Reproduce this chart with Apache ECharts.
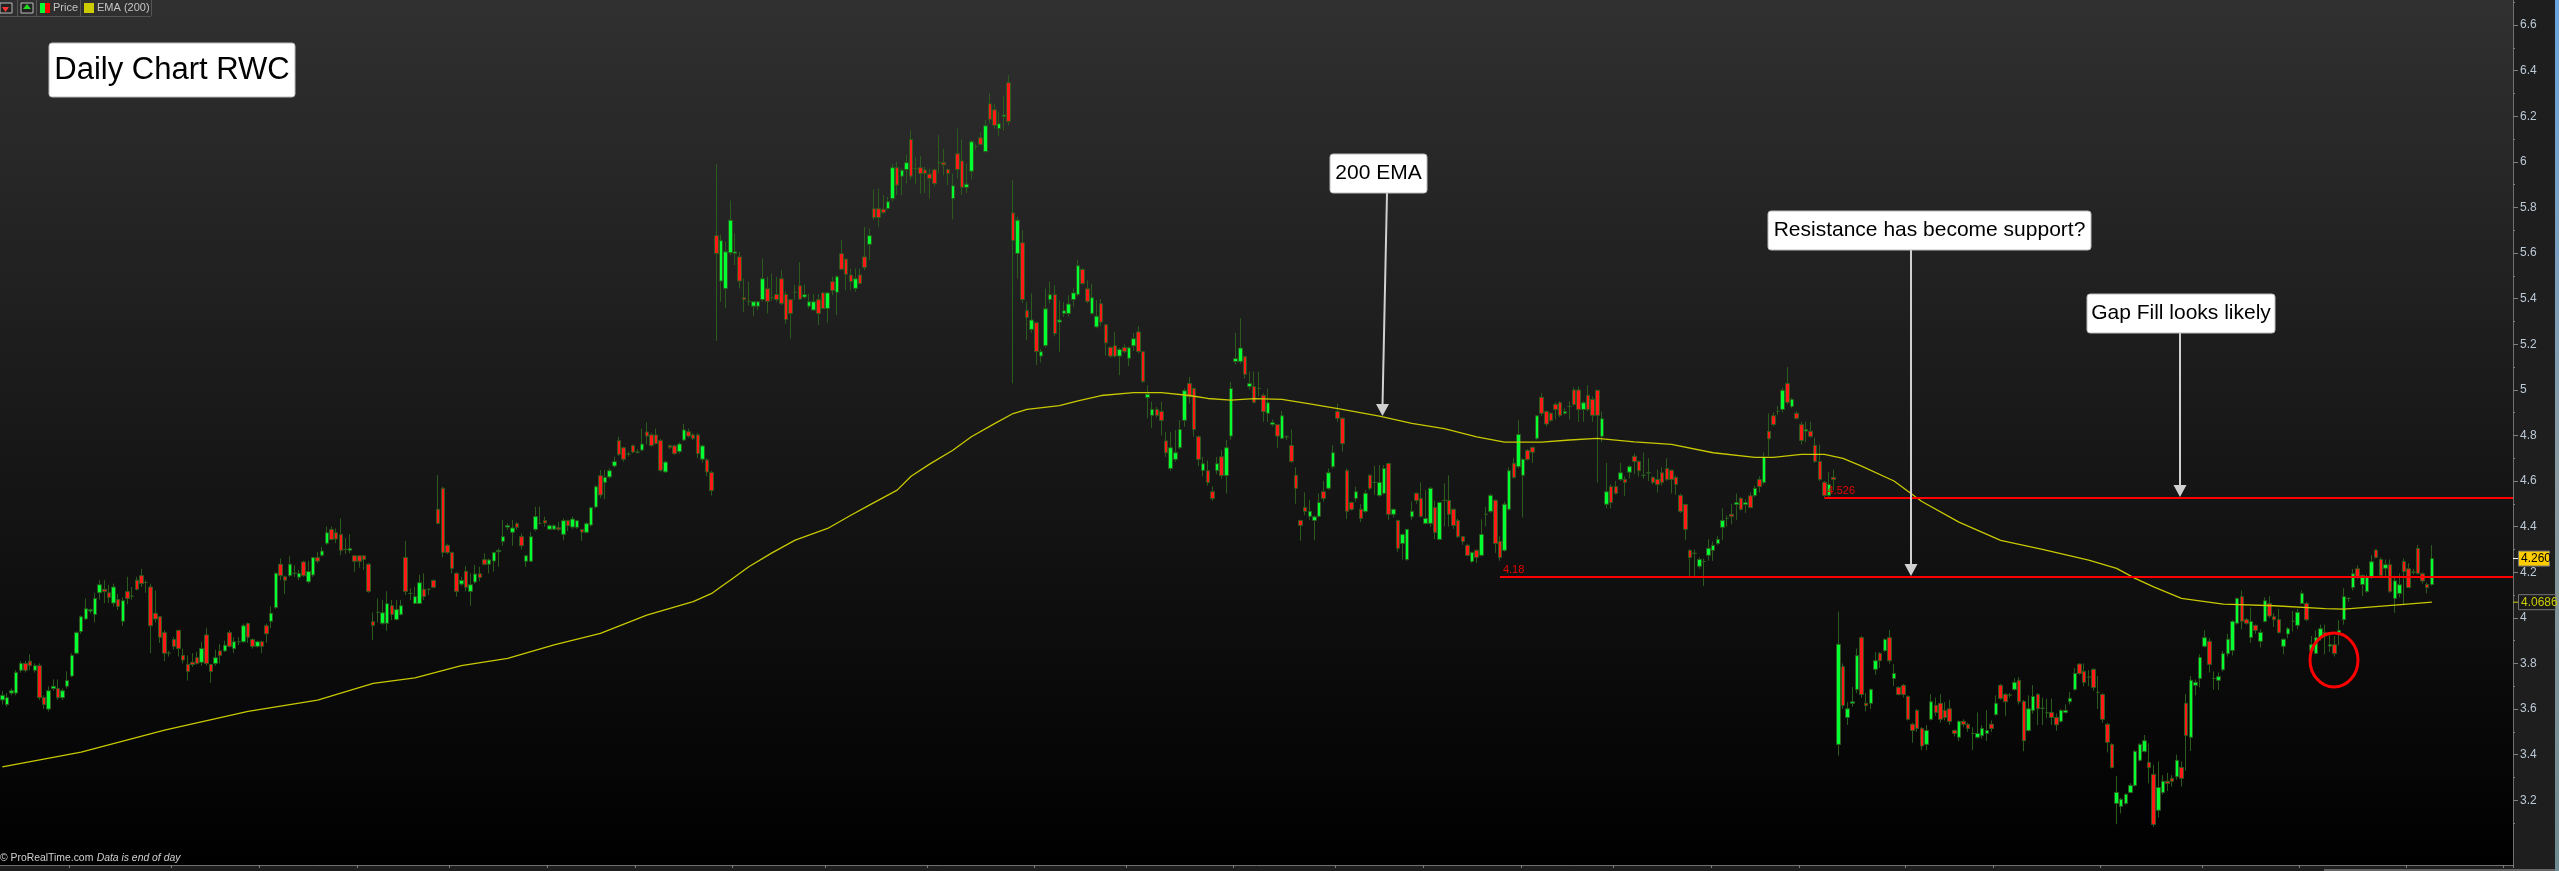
<!DOCTYPE html>
<html>
<head>
<meta charset="utf-8">
<title>Daily Chart RWC</title>
<script src="https://cdn.jsdelivr.net/npm/echarts@6/dist/echarts.min.js"></script>
<style>
html, body { margin: 0; padding: 0; background: #1e1e1e; overflow: hidden; }
#main { width: 2559px; height: 871px; }
</style>
</head>
<body>
<div id="main"></div>
<script>
// open, close, low, high
const legOne = [
[3.64,3.66,3.62,3.68],[3.62,3.65,3.61,3.67],[3.67,3.68,3.66,3.69],[3.67,3.76,3.66,3.77],[3.77,3.80,3.76,3.81],
[3.80,3.77,3.76,3.81],[3.81,3.79,3.77,3.84],[3.77,3.79,3.76,3.80],[3.79,3.65,3.64,3.80],[3.65,3.62,3.60,3.66],
[3.60,3.68,3.59,3.70],[3.69,3.70,3.68,3.73],[3.69,3.65,3.64,3.73],[3.65,3.68,3.64,3.69],[3.70,3.725,3.69,3.765],
[3.745,3.835,3.74,3.845],[3.845,3.935,3.84,3.94],[3.94,4.005,3.93,4.01],[3.995,4.04,3.99,4.085],[4.03,4.035,4.02,4.04],
[4.015,4.085,3.98,4.11],[4.11,4.145,4.08,4.165],[4.125,4.115,4.065,4.165],[4.11,4.09,4.065,4.145],[4.065,4.135,4.05,4.15],
[4.08,4.05,4.035,4.105],[3.985,4.075,3.965,4.09],[4.115,4.085,4.06,4.18],[4.095,4.095,4.08,4.135],[4.165,4.125,4.12,4.18],
[4.185,4.15,4.135,4.215],[4.155,4.155,4.11,4.165],[4.135,3.965,3.845,4.15],[4.02,3.995,3.98,4.12],[4.005,3.915,3.89,4.005],
[3.935,3.845,3.81,3.945],[3.845,3.845,3.83,3.855],[3.905,3.875,3.86,3.915],[3.945,3.865,3.83,3.945],[3.835,3.815,3.80,3.865],
[3.795,3.765,3.725,3.835],[3.805,3.795,3.785,3.845],[3.825,3.80,3.795,3.85],[3.805,3.865,3.79,3.895],[3.925,3.80,3.79,3.955],
[3.795,3.765,3.715,3.795],[3.80,3.825,3.79,3.86],[3.855,3.835,3.80,3.885],[3.855,3.88,3.85,3.90],[3.935,3.875,3.87,3.945],
[3.865,3.895,3.845,3.915],[3.895,3.895,3.88,3.915],[3.895,3.965,3.89,3.975],[3.975,3.915,3.89,3.98],[3.905,3.875,3.865,3.91],
[3.875,3.895,3.87,3.90],[3.895,3.875,3.845,3.90],[3.965,3.93,3.89,3.975],[3.985,4.02,3.955,4.05],[4.045,4.195,4.04,4.20],
[4.235,4.185,4.165,4.26],[4.18,4.165,4.105,4.185],[4.185,4.235,4.18,4.27],[4.195,4.195,4.18,4.23],[4.178,4.195,4.165,4.21],
[4.245,4.185,4.18,4.25],[4.158,4.203,4.15,4.25],[4.188,4.264,4.18,4.268],[4.264,4.249,4.24,4.29],[4.274,4.293,4.268,4.312],
[4.327,4.373,4.32,4.40],[4.387,4.344,4.34,4.40],[4.373,4.346,4.327,4.392],[4.365,4.296,4.275,4.436],[4.30,4.30,4.28,4.35],
[4.296,4.304,4.283,4.367],[4.272,4.248,4.202,4.275],[4.272,4.248,4.22,4.275],[4.272,4.256,4.21,4.275],[4.235,4.116,4.11,4.24],
[3.983,3.967,3.903,4.024],[4.024,4.024,3.98,4.085],[3.976,4.022,3.97,4.078],[3.976,4.062,3.943,4.117],[4.053,4.015,3.99,4.078],
[3.993,4.036,3.988,4.078],[4.015,4.053,4.01,4.078],[4.265,4.116,4.10,4.337],[4.107,4.107,4.078,4.13],[4.063,4.093,4.06,4.136],
[4.063,4.154,4.06,4.188],[4.125,4.094,4.078,4.195],[4.125,4.125,4.10,4.13],[4.164,4.134,4.13,4.168],[4.476,4.414,4.41,4.626],
[4.568,4.287,4.265,4.575],[4.318,4.287,4.28,4.325],[4.286,4.217,4.195,4.29],[4.195,4.116,4.093,4.20],[4.148,4.164,4.14,4.18],
[4.204,4.134,4.116,4.227],[4.116,4.145,4.053,4.195],[4.157,4.192,4.15,4.232],[4.193,4.177,4.16,4.224],[4.255,4.235,4.23,4.283],
[4.235,4.254,4.195,4.26],[4.249,4.286,4.202,4.29],[4.29,4.295,4.224,4.305],[4.335,4.356,4.316,4.429],[4.398,4.405,4.385,4.414],
[4.375,4.394,4.316,4.429],[4.413,4.397,4.385,4.42],[4.356,4.316,4.30,4.37],[4.248,4.272,4.224,4.275],[4.248,4.356,4.245,4.375],
[4.388,4.444,4.38,4.487],[4.414,4.414,4.41,4.487],[4.426,4.416,4.40,4.444],[4.389,4.404,4.385,4.41],[4.389,4.404,4.385,4.41],
[4.395,4.389,4.38,4.42],[4.366,4.426,4.34,4.436],[4.426,4.404,4.38,4.43],[4.398,4.433,4.39,4.444],[4.397,4.426,4.39,4.43],
[4.387,4.376,4.338,4.39],[4.375,4.413,4.37,4.42],[4.407,4.483,4.40,4.487],[4.486,4.575,4.48,4.582],[4.623,4.539,4.525,4.648],
[4.594,4.616,4.52,4.648],[4.618,4.645,4.61,4.655],[4.666,4.685,4.66,4.707],[4.777,4.717,4.71,4.794],[4.746,4.696,4.685,4.75],
[4.718,4.718,4.707,4.73],[4.755,4.727,4.722,4.76],[4.727,4.727,4.72,4.74],[4.736,4.762,4.73,4.83],[4.815,4.797,4.76,4.857],
[4.802,4.756,4.75,4.81],[4.802,4.765,4.76,4.83],[4.777,4.647,4.64,4.785],[4.64,4.683,4.635,4.69],[4.755,4.748,4.74,4.76],
[4.754,4.72,4.715,4.76],[4.729,4.762,4.72,4.77],[4.78,4.824,4.775,4.85],[4.816,4.797,4.79,4.83],[4.802,4.787,4.78,4.81],
[4.802,4.72,4.70,4.81],[4.696,4.754,4.68,4.76],[4.692,4.64,4.62,4.70],[4.637,4.558,4.536,4.645]
];
const legTwo = [
[5.676,5.598,5.215,5.99],[5.477,5.654,5.386,5.68],[5.444,5.605,5.357,5.65],[5.601,5.744,5.59,5.83],[5.598,5.605,5.547,5.686],
[5.583,5.477,5.445,5.605],[5.404,5.396,5.342,5.488],[5.388,5.388,5.37,5.474],[5.367,5.386,5.323,5.386],[5.367,5.386,5.35,5.39],
[5.396,5.487,5.386,5.576],[5.443,5.388,5.335,5.496],[5.404,5.404,5.39,5.51],[5.418,5.396,5.386,5.496],[5.487,5.379,5.372,5.525],
[5.418,5.308,5.29,5.43],[5.395,5.335,5.224,5.397],[5.428,5.428,5.394,5.46],[5.456,5.398,5.393,5.56],[5.407,5.417,5.40,5.463],
[5.367,5.386,5.357,5.42],[5.35,5.386,5.347,5.42],[5.395,5.335,5.284,5.42],[5.425,5.357,5.354,5.43],[5.357,5.425,5.294,5.43],
[5.474,5.436,5.415,5.496],[5.428,5.496,5.328,5.503],[5.597,5.529,5.525,5.656],[5.573,5.507,5.437,5.576],[5.503,5.475,5.437,5.532],
[5.445,5.487,5.43,5.532],[5.504,5.466,5.463,5.532],[5.583,5.537,5.525,5.715],[5.638,5.676,5.569,5.708],[5.794,5.756,5.744,5.879],
[5.794,5.756,5.715,5.883],[5.792,5.778,5.77,5.854],[5.795,5.825,5.79,5.847],[5.839,5.974,5.825,5.99],[5.974,5.898,5.854,6.0],
[5.937,5.963,5.854,5.97],[5.966,5.996,5.905,6.03],[6.098,5.937,5.92,6.139],[5.97,5.97,5.902,6.02],[5.974,5.949,5.861,6.025],
[5.964,5.949,5.864,5.978],[5.946,5.927,5.838,5.97],[5.965,5.905,5.893,5.97],[5.996,5.996,5.95,6.117],[5.996,5.987,5.94,6.058],
[5.966,5.949,5.898,5.97],[5.839,5.895,5.747,5.949],[6.035,5.966,5.927,6.146],[6.004,5.888,5.854,6.098],[5.888,5.902,5.864,5.993],
[5.959,6.088,5.923,6.095],[6.066,6.066,6.05,6.08],[6.105,6.076,6.07,6.13],[6.045,6.158,6.04,6.183],[6.254,6.186,6.168,6.30],
[6.228,6.16,6.146,6.256],[6.146,6.167,6.113,6.22],[6.199,6.205,6.136,6.288],[6.347,6.177,6.16,6.38],[5.776,5.655,5.028,5.92],
[5.598,5.744,5.488,5.76],[5.645,5.396,5.38,5.70],[5.347,5.317,5.218,5.386],[5.265,5.306,5.25,5.423],[5.294,5.168,5.108,5.30],
[5.148,5.167,5.12,5.18],[5.194,5.355,5.185,5.444],[5.396,5.417,5.38,5.475],[5.417,5.247,5.235,5.459],[5.297,5.306,5.167,5.393],
[5.335,5.347,5.32,5.385],[5.335,5.376,5.32,5.415],[5.396,5.425,5.364,5.445],[5.418,5.544,5.41,5.57],[5.528,5.466,5.46,5.535],
[5.443,5.388,5.38,5.48],[5.335,5.404,5.33,5.466],[5.276,5.323,5.27,5.393],[5.377,5.297,5.28,5.398],[5.285,5.206,5.15,5.29],
[5.186,5.148,5.14,5.19],[5.193,5.148,5.14,5.254],[5.148,5.177,5.064,5.185],[5.186,5.168,5.16,5.20],[5.138,5.184,5.104,5.19],
[5.193,5.224,5.17,5.25],[5.254,5.168,5.16,5.28],[5.167,5.037,5.03,5.17],[4.966,4.981,4.875,5.02],[4.888,4.914,4.833,4.948],
[4.914,4.888,4.88,4.925],[4.905,4.866,4.80,4.948],[4.776,4.724,4.706,4.816],[4.655,4.746,4.645,4.816],[4.695,4.724,4.684,4.824],
[4.746,4.826,4.74,4.867],[4.866,4.996,4.838,5.006],[5.028,4.969,4.94,5.057],[5.006,4.826,4.794,5.01],[4.794,4.695,4.665,4.80],
[4.646,4.676,4.62,4.706],[4.645,4.594,4.58,4.69],[4.553,4.523,4.513,4.577],[4.646,4.676,4.63,4.706],[4.706,4.624,4.61,4.735],
[4.624,4.746,4.545,4.78],[4.797,5.006,4.78,5.035],[5.124,5.137,5.11,5.25],[5.124,5.183,5.115,5.313]
];
const legThree = [
[5.145,5.068,5.05,5.15],[5.015,5.028,5.0,5.08],[5.014,4.945,4.94,5.08],[5.006,5.006,4.97,5.08],[4.976,4.904,4.86,4.985],
[4.897,4.943,4.86,5.006],[4.848,4.856,4.84,4.87],[4.847,4.797,4.745,4.85],[4.787,4.886,4.785,4.908],[4.794,4.794,4.78,4.80],
[4.756,4.686,4.68,4.826],[4.625,4.568,4.50,4.66],[4.427,4.405,4.338,4.43],[4.484,4.467,4.45,4.55],[4.445,4.467,4.43,4.516],
[4.427,4.443,4.34,4.45],[4.445,4.506,4.44,4.546],[4.553,4.524,4.51,4.60],[4.568,4.636,4.56,4.655],[4.663,4.724,4.655,4.757],
[4.905,4.875,4.86,4.94],[4.875,4.764,4.73,4.88],[4.645,4.467,4.433,4.655],[4.506,4.476,4.47,4.51],[4.524,4.553,4.51,4.575],
[4.476,4.436,4.42,4.50],[4.467,4.546,4.46,4.56],[4.625,4.568,4.56,4.63],[4.594,4.594,4.54,4.667],[4.537,4.594,4.53,4.67],
[4.546,4.655,4.54,4.67],[4.677,4.454,4.43,4.68],[4.454,4.476,4.44,4.48],[4.427,4.305,4.29,4.43],[4.326,4.366,4.255,4.37],
[4.256,4.388,4.25,4.39],[4.443,4.467,4.43,4.51],[4.546,4.515,4.50,4.55],[4.524,4.445,4.44,4.594],[4.414,4.436,4.41,4.56],
[4.414,4.568,4.40,4.575],[4.484,4.375,4.345,4.515],[4.344,4.506,4.34,4.51],[4.515,4.515,4.40,4.59],[4.515,4.454,4.40,4.625],
[4.476,4.405,4.39,4.48],[4.427,4.356,4.35,4.435],[4.356,4.335,4.32,4.36],[4.318,4.274,4.27,4.325],[4.247,4.287,4.24,4.29],
[4.296,4.265,4.24,4.30],[4.274,4.366,4.27,4.432],[4.454,4.454,4.40,4.487],[4.467,4.537,4.46,4.545],[4.515,4.326,4.285,4.52],
[4.335,4.265,4.25,4.358],[4.296,4.498,4.29,4.51],[4.476,4.645,4.47,4.66],[4.677,4.616,4.61,4.70],[4.663,4.804,4.655,4.867],
[4.625,4.695,4.44,4.70],[4.734,4.695,4.69,4.74],[4.748,4.726,4.68,4.75],[4.787,4.886,4.78,4.89],[4.967,4.897,4.885,4.985],
[4.905,4.85,4.84,4.91],[4.897,4.866,4.86,4.90],[4.936,4.914,4.87,4.945],[4.943,4.888,4.88,4.95],[4.897,4.905,4.89,4.92],
[4.927,4.927,4.87,4.95],[4.999,4.936,4.93,5.01],[4.999,4.914,4.86,5.015],[4.914,4.943,4.86,4.95],[4.976,4.914,4.905,5.02],
[4.958,4.888,4.86,4.97],[4.998,4.888,4.594,5.0],[4.796,4.873,4.77,4.905],[4.498,4.553,4.48,4.68],[4.575,4.506,4.48,4.585],
[4.575,4.546,4.54,4.60],[4.607,4.636,4.60,4.68],[4.607,4.594,4.535,4.62],[4.639,4.663,4.61,4.67],[4.708,4.686,4.63,4.72],
[4.686,4.645,4.62,4.69],[4.625,4.625,4.61,4.725],[4.636,4.636,4.60,4.70],[4.616,4.594,4.585,4.62],[4.607,4.585,4.55,4.65],
[4.636,4.594,4.58,4.66],[4.655,4.607,4.60,4.70],[4.647,4.607,4.545,4.65],[4.616,4.585,4.54,4.625],[4.537,4.467,4.46,4.545],
[4.497,4.388,4.34,4.50],[4.296,4.265,4.18,4.30],[4.283,4.283,4.18,4.30],[4.226,4.256,4.215,4.265],[4.247,4.247,4.14,4.26],
[4.274,4.305,4.25,4.345],[4.296,4.318,4.25,4.335],[4.326,4.344,4.32,4.36],[4.397,4.427,4.34,4.48],[4.436,4.436,4.40,4.45],
[4.454,4.445,4.41,4.50],[4.497,4.505,4.43,4.545],[4.524,4.476,4.47,4.53],[4.497,4.505,4.46,4.52],[4.535,4.484,4.48,4.55],
[4.537,4.568,4.53,4.58],[4.607,4.576,4.55,4.62],[4.594,4.704,4.585,4.725],[4.818,4.785,4.71,4.897],[4.886,4.848,4.84,4.90],
[4.905,4.905,4.89,4.93],[4.914,4.998,4.90,5.01],[5.028,4.945,4.935,5.10],[4.927,4.958,4.92,4.965],[4.897,4.875,4.87,4.905],
[4.847,4.778,4.76,4.86],[4.819,4.826,4.77,4.86],[4.818,4.796,4.79,4.86],[4.756,4.686,4.68,4.79],[4.686,4.607,4.60,4.76],
[4.594,4.537,4.53,4.60],[4.537,4.585,4.53,4.64],[4.616,4.607,4.56,4.65]
];
const legFour = [
[3.445,3.884,3.395,4.027],[3.786,3.616,3.60,3.80],[3.563,3.601,3.53,3.63],[3.625,3.632,3.61,3.696],[3.686,3.834,3.67,3.866],
[3.913,3.664,3.65,3.92],[3.625,3.616,3.59,3.67],[3.625,3.686,3.60,3.69],[3.774,3.812,3.75,3.85],[3.844,3.812,3.78,3.85],
[3.856,3.905,3.85,3.91],[3.913,3.812,3.80,3.946],[3.734,3.756,3.70,3.797],[3.695,3.664,3.66,3.70],[3.704,3.664,3.65,3.71],
[3.655,3.555,3.55,3.66],[3.533,3.506,3.452,3.54],[3.594,3.515,3.50,3.60],[3.515,3.438,3.42,3.52],[3.445,3.506,3.42,3.53],
[3.555,3.632,3.55,3.665],[3.616,3.585,3.57,3.65],[3.625,3.555,3.54,3.665],[3.594,3.563,3.55,3.63],[3.601,3.546,3.53,3.64],
[3.506,3.493,3.48,3.51],[3.476,3.546,3.46,3.55],[3.546,3.533,3.52,3.555],[3.533,3.515,3.50,3.54],[3.493,3.493,3.42,3.52],
[3.476,3.493,3.47,3.585],[3.483,3.515,3.47,3.53],[3.493,3.506,3.46,3.595],[3.533,3.515,3.50,3.55],[3.576,3.625,3.57,3.66],
[3.704,3.647,3.64,3.71],[3.664,3.632,3.57,3.67],[3.661,3.661,3.65,3.67],[3.686,3.717,3.68,3.735],[3.726,3.632,3.62,3.74],
[3.633,3.461,3.415,3.64],[3.506,3.601,3.50,3.66],[3.594,3.655,3.58,3.705],[3.664,3.601,3.53,3.67],[3.603,3.603,3.53,3.65],
[3.584,3.584,3.56,3.645],[3.585,3.563,3.53,3.645],[3.563,3.531,3.505,3.58],[3.546,3.594,3.54,3.60],[3.585,3.594,3.58,3.62],
[3.632,3.647,3.62,3.675],[3.686,3.756,3.68,3.78],[3.797,3.756,3.75,3.80],[3.765,3.717,3.70,3.80],[3.74,3.74,3.70,3.77],
[3.774,3.695,3.68,3.78],[3.673,3.673,3.60,3.745],[3.664,3.555,3.54,3.67],[3.533,3.454,3.41,3.54],[3.445,3.343,3.34,3.45],
[3.186,3.234,3.095,3.306],[3.173,3.204,3.142,3.21],[3.186,3.226,3.18,3.23],[3.234,3.265,3.23,3.275],[3.265,3.414,3.26,3.42],
[3.375,3.445,3.37,3.45],[3.414,3.461,3.41,3.486],[3.366,3.343,3.274,3.45],[3.313,3.094,3.084,3.355],[3.156,3.256,3.125,3.37],
[3.234,3.283,3.225,3.31],[3.283,3.274,3.24,3.32],[3.296,3.283,3.26,3.31],[3.303,3.375,3.29,3.40],[3.344,3.296,3.26,3.37],
[3.625,3.484,3.33,3.665],[3.476,3.726,3.416,3.745],[3.704,3.717,3.66,3.73],[3.734,3.826,3.695,3.84],[3.875,3.913,3.87,3.945],
[3.897,3.796,3.76,3.91],[3.734,3.734,3.685,3.765],[3.726,3.742,3.684,3.76],[3.772,3.843,3.765,3.855],[3.843,3.906,3.83,3.93],
[3.857,3.984,3.835,3.99],[3.976,4.085,3.97,4.09],[4.093,3.985,3.95,4.12],[3.992,3.976,3.97,4.0],[3.914,3.984,3.89,4.045],
[3.967,3.945,3.93,3.97],[3.897,3.936,3.87,3.95],[3.984,4.075,3.98,4.09],[4.063,4.008,4.0,4.095],[4.005,3.992,3.96,4.02],
[3.992,3.936,3.93,4.04],[3.875,3.906,3.84,3.91],[3.929,3.952,3.91,3.96],[3.985,3.985,3.94,4.03],[3.967,4.024,3.95,4.04],
[4.063,4.107,4.06,4.12],[4.063,3.992,3.985,4.07],[3.856,3.882,3.85,3.92],[3.844,3.913,3.84,3.945],[3.913,3.952,3.90,3.97],
[3.936,3.92,3.84,3.97],[3.876,3.882,3.85,3.93],[3.882,3.844,3.83,3.92],[3.929,3.945,3.88,3.99],[3.992,4.093,3.97,4.13],
[4.085,4.085,4.07,4.09],[4.133,4.193,4.12,4.215],[4.215,4.179,4.17,4.23],[4.146,4.186,4.095,4.19],[4.116,4.179,4.11,4.19],
[4.179,4.246,4.17,4.275],[4.297,4.265,4.26,4.30],[4.256,4.186,4.175,4.265],[4.217,4.233,4.18,4.256],[4.233,4.116,4.11,4.256],
[4.085,4.162,4.022,4.185],[4.107,4.145,4.09,4.195],[4.247,4.203,4.055,4.26],[4.215,4.133,4.13,4.24],[4.20,4.20,4.19,4.215],
[4.304,4.195,4.19,4.319],[4.193,4.162,4.15,4.20],[4.146,4.133,4.107,4.155],[4.146,4.26,4.14,4.319]
];
const emaSlots = [0,17,35,53,68,80,89,99,109,119,129,139,149,153,155,157,161,166,171,178,183,187,193,196,200,205,209,214,218,221,228,232,237,244,250,256,260,265,270,276,282,289,297,304,311,318,324,332,338,344,352,360,369,378,382,388,393,397,401,408,414,422,431,440,450,456,460,464,470,479,490,501,505,516,524];
const emaValues = [3.346,3.411,3.508,3.59,3.639,3.713,3.737,3.79,3.822,3.881,3.932,4.012,4.071,4.107,4.136,4.165,4.224,4.285,4.341,4.392,4.45,4.494,4.56,4.621,4.674,4.735,4.794,4.852,4.896,4.914,4.931,4.952,4.975,4.988,4.988,4.975,4.962,4.955,4.961,4.958,4.938,4.914,4.885,4.853,4.83,4.794,4.771,4.771,4.78,4.787,4.772,4.761,4.724,4.704,4.704,4.717,4.717,4.699,4.665,4.60,4.51,4.42,4.34,4.30,4.253,4.217,4.173,4.136,4.085,4.06,4.053,4.04,4.038,4.056,4.0686];

const bottomTicks = [15,37,56,77,97,118,137,158,178,200,223,243,266,288,307,328,348,369,388,411,430,453,475,496,519,540];
const priceLabels = [3.2,3.4,3.6,3.8,4,4.2,4.4,4.6,4.8,5,5.2,5.4,5.6,5.8,6,6.2,6.4,6.6];
const priceMinor = [3.1,3.3,3.5,3.7,3.9,4.1,4.3,4.5,4.7,4.9,5.1,5.3,5.5,5.7,5.9,6.1,6.3,6.5,6.7];
const slotCount = 542;

const candles = legOne.concat(legTwo, legThree, legFour);
const slots = [];
for (let i = 0; i < slotCount; i++) slots.push(String(i));
const emaLine = emaSlots.map((s, i) => [s, emaValues[i]]);

const lastClose = 4.26;
const lastEma = 4.0686;
const gapLevel = 4.526;
const gapStartSlot = 393;
const supportLevel = 4.18;
const supportStartSlot = 323;

const WICK = "#2b5c1e";
const GREEN = "#00ff33";
const RED = "#ff1a1a";
const ARROW = "#d0d0d0";
const PLOT_RIGHT = 2513;

const chart = echarts.init(document.getElementById("main"), null, { renderer: "canvas" });

function noteBox(x, y, w, h, text, size) {
	return [
		{ type: "rect", z: 50, shape: { x: x, y: y, width: w, height: h, r: 3 }, style: { fill: "#fff", stroke: "#bbb", lineWidth: 1 } },
		{ type: "text", z: 51, style: { x: x + w / 2, y: y + h / 2, text: text, fill: "#000", align: "center", verticalAlign: "middle", font: size + 'px "Liberation Sans"' } },
	];
}

function arrow(x1, y1, x2, y2) {
	return [
		{ type: "line", z: 40, shape: { x1: x1, y1: y1, x2: x2, y2: y2 - 10 }, style: { stroke: ARROW, lineWidth: 2 } },
		{ type: "polygon", z: 41, shape: { points: [[x2 - 6.5, y2 - 12], [x2 + 6.5, y2 - 12], [x2, y2]] }, style: { fill: ARROW } },
	];
}

function toolbar() {
	const els = [];
	[17, 36, 80, 151].forEach((x) => {
		els.push({ type: "line", z: 60, shape: { x1: x + 0.5, y1: 0, x2: x + 0.5, y2: 16 }, style: { stroke: "#555", lineWidth: 1 } });
	});
	els.push({ type: "line", z: 60, shape: { x1: 0, y1: 16.5, x2: 151, y2: 16.5 }, style: { stroke: "#555", lineWidth: 1 } });
	els.push({ type: "rect", z: 60, shape: { x: 0, y: 3, width: 12, height: 10 }, style: { fill: "#222", stroke: "#bbb", lineWidth: 1 } });
	els.push({ type: "polygon", z: 61, shape: { points: [[2, 7], [9, 7], [5.5, 12]] }, style: { fill: "#f33" } });
	els.push({ type: "rect", z: 60, shape: { x: 21, y: 3, width: 12, height: 10 }, style: { fill: "#222", stroke: "#bbb", lineWidth: 1 } });
	els.push({ type: "polygon", z: 61, shape: { points: [[23, 9], [31, 9], [27, 4]] }, style: { fill: "#2d2" } });
	els.push({ type: "rect", z: 60, shape: { x: 40, y: 3, width: 5, height: 10 }, style: { fill: "#00ff33" } });
	els.push({ type: "rect", z: 60, shape: { x: 45, y: 3, width: 5, height: 10 }, style: { fill: "#ff0000" } });
	els.push({ type: "text", z: 60, style: { x: 53, y: 8, text: "Price", fill: "#c4c4c4", verticalAlign: "middle", font: '11px "Liberation Sans"' } });
	els.push({ type: "rect", z: 60, shape: { x: 84, y: 3, width: 10, height: 10 }, style: { fill: "#cccc00" } });
	els.push({ type: "text", z: 60, style: { x: 97, y: 8, text: "EMA (200)", fill: "#c4c4c4", verticalAlign: "middle", font: '11px "Liberation Sans"' } });
	return els;
}

const option = {
	backgroundColor: "#1e1e1e",
	animation: false,
	grid: {
		left: 0,
		top: 0,
		right: 46,
		bottom: 6,
		show: true,
		borderWidth: 0,
		backgroundColor: new echarts.graphic.LinearGradient(0, 0, 0, 1, [
			{ offset: 0, color: "#303030" },
			{ offset: 1, color: "#000000" },
		]),
	},
	xAxis: {
		type: "category",
		data: slots,
		axisLine: { lineStyle: { color: "#707070", width: 1 } },
		axisTick: { show: true, length: 3, customValues: bottomTicks, lineStyle: { color: "#808080" } },
		axisLabel: { show: false },
		splitLine: { show: false },
	},
	yAxis: [
		{
			type: "value",
			position: "right",
			min: 2.916,
			max: 6.7096,
			scale: true,
			axisLine: { show: true, lineStyle: { color: "#707070" } },
			axisTick: { show: true, length: 5, customValues: priceLabels, lineStyle: { color: "#808080" } },
			axisLabel: { show: true, customValues: priceLabels, margin: 7, color: "#bccad8", fontFamily: "Liberation Sans", fontSize: 12 },
			splitLine: { show: false },
		},
		{
			type: "value",
			position: "right",
			min: 2.916,
			max: 6.7096,
			scale: true,
			axisLine: { show: false },
			axisTick: { show: true, length: 2, customValues: priceMinor, lineStyle: { color: "#808080" } },
			axisLabel: { show: false },
			splitLine: { show: false },
		},
	],
	series: [
		{
			name: "Price",
			type: "candlestick",
			data: candles,
			barWidth: 4,
			itemStyle: {
				color: GREEN,
				color0: RED,
				borderColor: WICK,
				borderColor0: WICK,
				borderColorDoji: WICK,
				borderWidth: 1,
			},
			silent: true,
		},
		{
			name: "EMA (200)",
			type: "line",
			data: emaLine,
			showSymbol: false,
			symbol: "none",
			lineStyle: { color: "#c8c800", width: 1.3 },
			z: 3,
			silent: true,
		},
	],
	graphic: { elements: [] },
};

chart.setOption(option);

// tags and level lines run up to the axis, so ask the chart where they go
const priceY = (v) => chart.convertToPixel({ yAxisIndex: 0 }, v);
const slotX = (s) => chart.convertToPixel({ xAxisIndex: 0 }, String(s));

function priceTag(y, text, fill, color, w) {
	return [
		{ type: "line", z: 60, shape: { x1: PLOT_RIGHT, y1: y, x2: PLOT_RIGHT + 5, y2: y }, style: { stroke: fill === "#ffcc00" ? "#fff" : "#cccc00", lineWidth: 1 } },
		{ type: "rect", z: 60, shape: { x: PLOT_RIGHT + 5.5, y: y - 7.5, width: w, height: 15 }, style: { fill: fill, stroke: "#777", lineWidth: 1 } },
		{ type: "text", z: 61, style: { x: PLOT_RIGHT + 8, y: y + 0.5, text: text, fill: color, verticalAlign: "middle", font: '12px "Liberation Sans"' } },
	];
}

function levelLine(slot, level, text) {
	const x = slotX(slot);
	const y = Math.round(priceY(level));
	return [
		{ type: "line", z: 30, shape: { x1: x, y1: y, x2: PLOT_RIGHT, y2: y }, style: { stroke: "#ff0000", lineWidth: 2 } },
		{ type: "text", z: 31, style: { x: x + 3, y: y - 2, text: text, fill: "#e60000", verticalAlign: "bottom", font: '11px "Liberation Sans"' } },
	];
}

chart.setOption({
	graphic: {
		elements: [].concat(
			toolbar(),
			noteBox(49, 43, 246, 54, "Daily Chart RWC", 31),
			noteBox(1330, 154, 97, 39, "200 EMA", 21),
			noteBox(1768, 211, 323, 39, "Resistance has become support?", 21),
			noteBox(2087, 294, 188, 39, "Gap Fill looks likely", 21),
			arrow(1387, 193, 1382.5, 416),
			arrow(1911, 250, 1911, 576),
			arrow(2180, 333, 2180, 497),
			levelLine(gapStartSlot, gapLevel, "4.526"),
			levelLine(supportStartSlot, supportLevel, "4.18"),
			[
				{ type: "ellipse", z: 45, shape: { cx: 2334, cy: 660, rx: 24, ry: 27 }, style: { fill: null, stroke: "#ff0000", lineWidth: 3 } },
				{
					type: "text",
					z: 60,
					style: {
						x: 0,
						y: 858,
						text: "{a|© ProRealTime.com} {b|Data is end of day}",
						verticalAlign: "middle",
						rich: {
							a: { fill: "#d0d0d0", font: '10.4px "Liberation Sans"' },
							b: { fill: "#d0d0d0", font: 'italic 10.4px "Liberation Sans"' },
						},
					},
				},
				{
					type: "rect",
					z: 60,
					shape: { x: 2555, y: 0, width: 4, height: 871 },
					style: {
						fill: new echarts.graphic.LinearGradient(0, 0, 0, 1, [
							{ offset: 0, color: "#6aa6e0" },
							{ offset: 0.55, color: "#8a9aa0" },
							{ offset: 1, color: "#6f8a90" },
						]),
					},
				},
				{ type: "rect", z: 60, shape: { x: 2324, y: 869, width: 231, height: 2 }, style: { fill: "#666" } },
			],
			priceTag(priceY(lastClose), "4.260", "#ffcc00", "#000", 31),
			priceTag(priceY(lastEma), "4.0686", "#1a1a1a", "#cccc00", 37)
		),
	},
});
</script>
</body>
</html>
